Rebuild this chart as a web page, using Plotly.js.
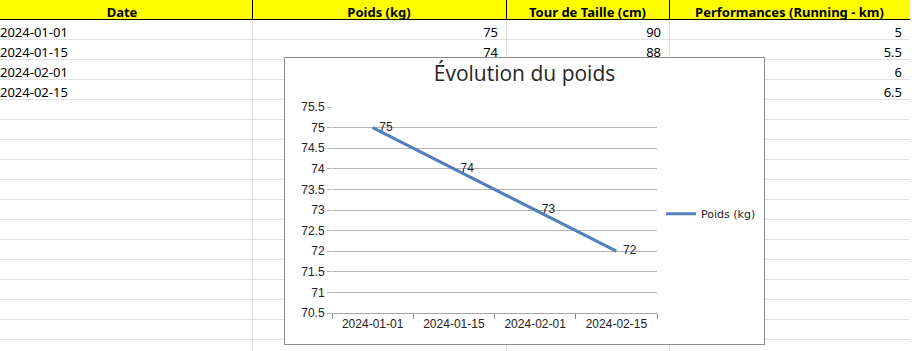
<!DOCTYPE html>
<html>
<head>
<meta charset="utf-8">
<script src="https://cdn.plot.ly/plotly-3.0.1.min.js"></script>
<style>
  html, body { margin:0; padding:0; width:912px; height:351px; overflow:hidden; background:#fff; }
  #sheet { position:absolute; left:-8px; top:-1px; width:918px; height:365px; }
  #chart { position:absolute; left:284px; top:57px; width:481px; height:288px; box-sizing:border-box;
           border:1px solid #8c8c8c; background:#fff; z-index:5; }
</style>
</head>
<body>
<div id="sheet"></div>
<div id="chart"></div>
<script>
// ---- data ----
const headers = ['Date', 'Poids (kg)', 'Tour de Taille (cm)', 'Performances (Running - km)'];
const dates = ['2024-01-01', '2024-01-15', '2024-02-01', '2024-02-15'];
const poids = [75, 74, 73, 72];
const tourTaille = [90, 88, 86, 84];
const performances = [5, 5.5, 6, 6.5];
const chartTitle = 'Évolution du poids';
const seriesName = 'Poids (kg)';

// ---- spreadsheet (table) ----
const totalRows = 17;
function pad(arr) {
  const out = arr.map(v => String(v));
  while (out.length < totalRows) out.push('');
  return out;
}
Plotly.newPlot('sheet', [{
  type: 'table',
  domain: {x: [0, 1], y: [0, 1]},
  columnwidth: [260, 254, 163, 241],
  header: {
    values: headers,
    align: 'center',
    height: 20,
    fill: {color: '#ffff00'},
    line: {color: '#000000', width: 1},
    font: {family: 'Noto Sans, Open Sans, sans-serif', size: 13, color: '#000', weight: 'bold'}
  },
  cells: {
    values: [pad(dates), pad(poids), pad(tourTaille), pad(performances)],
    align: ['left', 'right', 'right', 'right'],
    height: 20,
    fill: {color: '#ffffff'},
    line: {color: '#e1e1e1', width: 1},
    font: {family: 'Noto Sans, Open Sans, sans-serif', size: 13, color: '#000'}
  }
}], {
  width: 918, height: 365,
  margin: {l: 0, r: 0, t: 0, b: 0},
  paper_bgcolor: '#ffffff'
}, {staticPlot: true, displayModeBar: false});

// ---- chart ----
Plotly.newPlot('chart', [{
  type: 'scatter',
  mode: 'lines+text',
  name: seriesName,
  x: dates,
  y: poids,
  text: poids.map(v => '\u00a0\u00a0' + v),
  textposition: 'middle right',
  textfont: {family: 'Liberation Sans, Arial, sans-serif', size: 12, color: '#222'},
  line: {color: '#4f81bd', width: 3},
  cliponaxis: false,
  showlegend: true
}], {
  width: 479, height: 286,
  margin: {l: 47, r: 107, t: 49, b: 31, autoexpand: false},
  paper_bgcolor: '#ffffff',
  plot_bgcolor: '#ffffff',
  title: {
    text: chartTitle,
    font: {family: 'Open Sans, Noto Sans, sans-serif', size: 21, color: '#262626'},
    x: 0.5, xref: 'container', xanchor: 'center',
    y: 0.945, yref: 'container', yanchor: 'middle'
  },
  xaxis: {
    type: 'category',
    range: [-0.5, 3.5],
    tickson: 'boundaries',
    ticks: 'outside', ticklen: 5, tickcolor: '#8c8c8c',
    showline: true, linecolor: '#a6a6a6', linewidth: 1,
    showgrid: false, zeroline: false,
    tickfont: {family: 'Liberation Sans, Arial, sans-serif', size: 12, color: '#222'}
  },
  yaxis: {
    range: [70.5, 75.5],
    tick0: 70.5, dtick: 0.5,
    ticks: 'outside', ticklen: 4, tickcolor: '#b3b3b3',
    showline: false, zeroline: false,
    gridcolor: '#b3b3b3', gridwidth: 1,
    tickfont: {family: 'Liberation Sans, Arial, sans-serif', size: 12, color: '#222'}
  },
  legend: {
    x: 0.785, xref: 'container', xanchor: 'left',
    y: 0.455, yref: 'container', yanchor: 'middle',
    font: {family: 'DejaVu Sans, sans-serif', size: 11, color: '#222'},
    bgcolor: 'rgba(0,0,0,0)'
  }
}, {staticPlot: true, displayModeBar: false});
</script>
</body>
</html>
